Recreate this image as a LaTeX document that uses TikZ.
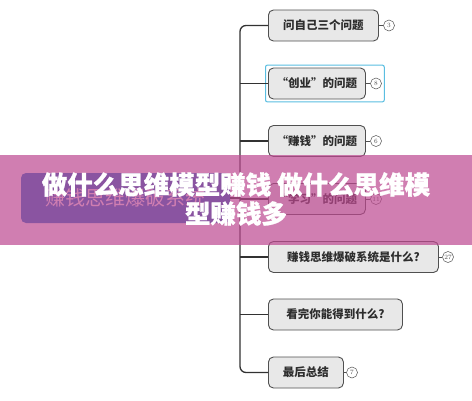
\documentclass[tikz,border=0pt]{standalone}
\usepackage{fontspec}
\newfontfamily\cjk{Noto Sans CJK SC}
\usetikzlibrary{fit}
\definecolor{boxfill}{RGB}{232,232,232}
\definecolor{boxline}{RGB}{80,80,80}
\definecolor{spinec}{RGB}{50,50,50}
\definecolor{txt}{RGB}{45,45,45}
\definecolor{hl}{RGB}{90,190,225}
\definecolor{bannerc}{RGB}{189,72,144}
\definecolor{rootc}{RGB}{20,115,204}
\tikzset{
  topic/.style={draw=boxline, fill=boxfill, line width=0.9pt, rounded corners=5pt,
    minimum height=31pt, inner sep=0pt, anchor=west, text=txt,
    font=\cjk\bfseries\fontsize{11.5}{13}\selectfont},
  badge/.style={circle, draw=boxline, line width=0.5pt, fill=white, minimum size=11pt,
    inner sep=0pt, font=\fontsize{6.5}{6.5}\selectfont, text=boxline},
  spine/.style={draw=spinec, line width=1.3pt},
  link/.style={draw=boxline, line width=0.6pt},
  rootbox/.style={fill=rootc, rounded corners=5pt, minimum width=209pt, minimum height=50pt,
    inner sep=0pt, text=white, font=\cjk\fontsize{20}{22}\selectfont},
  bannertext/.style={text=white, align=center,
    font=\cjk\bfseries\addfontfeatures{FakeBold=1}\fontsize{25.5}{29}\selectfont}
}
\begin{document}
\begin{tikzpicture}[x=1pt,y=-1pt]
\useasboundingbox (0,0) rectangle (472,400);
\fill[white] (0,0) rectangle (472,400);
% topics
\node[topic, minimum width=110pt] (n1) at (268,25.5) {问自己三个问题};
\node[topic, minimum width=97pt] (n2) at (268,83.5) {“创业”的问题};
\node[topic, minimum width=97pt] (n3) at (268,141) {“赚钱”的问题};
\node[topic, minimum width=97pt] (n4) at (268,199) {“学习”的问题};
\node[topic, minimum width=170pt] (n5) at (268,257) {赚钱思维爆破系统是什么?};
\node[topic, minimum width=134pt] (n6) at (268,314.5) {看完你能得到什么?};
\node[topic, minimum width=75pt] (n7) at (268,372.5) {最后总结};
% badges
\node[badge] (b1) at (389,25.5) {3};
\node[badge] (b2) at (376,83.5) {8};
\node[badge] (b3) at (376,141) {6};
\node[badge] (b4) at (376,199) {11};
\node[badge] (b5) at (448,257) {27};
\node[badge] (b7) at (352,372.5) {7};
\draw[link] (n1.east) -- (b1);
\draw[link] (n2.east) -- (b2);
\draw[link] (n3.east) -- (b3);
\draw[link] (n4.east) -- (b4);
\draw[link] (n5.east) -- (b5);
\draw[link] (n7.east) -- (b7);
% highlight
\node[draw=hl, line width=1pt, rounded corners=2pt, inner sep=2.5pt, fit=(n2)(b2)] (sel) {};
% spine
\coordinate (sp) at (240,200);
\draw[spine, rounded corners=6pt] (n1.west) -- (n1.west -| sp) -- (n7.west -| sp) -- (n7.west);
\draw[spine] (n2.west) -- (n2.west -| sp);
\draw[spine] (n3.west) -- (n3.west -| sp);
\draw[spine] (n4.west) -- (n4.west -| sp);
\draw[spine] (n5.west) -- (n5.west -| sp);
\draw[spine] (n6.west) -- (n6.west -| sp);
% root
\node[rootbox] (root) at (125.5,198) {赚钱思维爆破系统};
\draw[spine] (root.east) -- (root.east -| sp);
% banner
\fill[bannerc, opacity=0.7] (0,155) rectangle (472,245);
\node[bannertext] (title) at (236,199) {做什么思维模型赚钱 做什么思维模\\型赚钱多};
\end{tikzpicture}
\end{document}
